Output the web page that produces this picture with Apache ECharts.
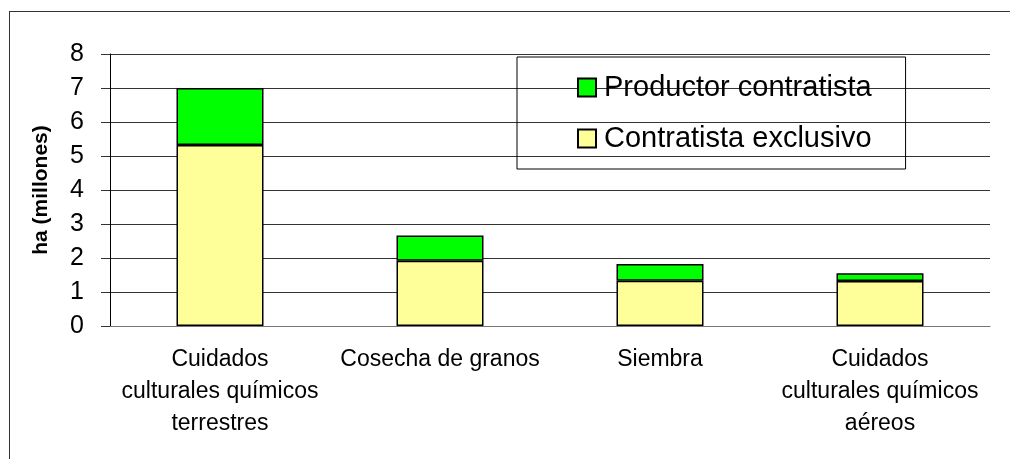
<!DOCTYPE html>
<html lang="es" style="height: 100%">
<head>
  <meta charset="utf-8">
  <title>ha (millones)</title>
</head>
<body style="height: 100%; margin: 0; background: #fff; overflow: hidden">
  <div id="frame" style="position: absolute; left: 9px; top: 11px; width: 1010px; height: 460px; border-top: 1px solid #333; border-left: 1px solid #333"></div>
  <div id="container" style="position: absolute; left: 0; top: 0; width: 1010px; height: 459px"></div>

  <script type="text/javascript" src="https://cdn.jsdelivr.net/npm/echarts@6/dist/echarts.min.js"></script>
  <script type="text/javascript">
    // datos
    const categories = [
      'Cuidados\nculturales químicos\nterrestres',
      'Cosecha de granos',
      'Siembra',
      'Cuidados\nculturales químicos\naéreos'
    ];
    const exclusivo = [5.32, 1.92, 1.33, 1.32];   // Contratista exclusivo
    const productor = [1.68, 0.74, 0.49, 0.23];   // Productor contratista
    const yTicks = [0, 1, 2, 3, 4, 5, 6, 7, 8];

    var dom = document.getElementById('container');
    var myChart = echarts.init(dom, null, { renderer: 'canvas' });
    var font = '"Liberation Sans", Arial, sans-serif';

    var option = {
      animation: false,
      textStyle: { fontFamily: font },
      grid: { left: 110, right: 20, top: 54, bottom: 133 },
      legend: {
        orient: 'vertical',
        left: 517,
        top: 57,
        data: ['Productor contratista', 'Contratista exclusivo'],
        icon: 'rect',
        itemWidth: 18,
        itemHeight: 18,
        itemGap: 18,
        padding: [14, 34, 14, 60],
        borderColor: '#000',
        borderWidth: 1,
        textStyle: { fontFamily: font, fontSize: 29, color: '#000', lineHeight: 33, padding: [0, 0, 0, 3] }
      },
      xAxis: {
        type: 'category',
        data: categories,
        axisLine: { lineStyle: { color: '#777', width: 1 } },
        axisTick: { length: 8, lineStyle: { color: '#333' } },
        axisLabel: {
          interval: 0,
          color: '#000',
          fontSize: 23,
          lineHeight: 32,
          margin: 18,
          fontFamily: font
        }
      },
      yAxis: {
        type: 'value',
        min: yTicks[0],
        max: yTicks[yTicks.length - 1],
        interval: 1,
        name: 'ha (millones)',
        nameLocation: 'middle',
        nameRotate: 90,
        nameGap: 58,
        nameTextStyle: { fontSize: 21, fontWeight: 'bold', color: '#000', fontFamily: font },
        axisLine: { show: true, lineStyle: { color: '#000' } },
        axisTick: { show: true, length: 9, lineStyle: { color: '#333' } },
        axisLabel: { color: '#000', fontSize: 25, margin: 26, fontFamily: font },
        splitLine: { lineStyle: { color: '#333', width: 1 } }
      },
      series: [
        {
          name: 'Contratista exclusivo',
          type: 'bar',
          stack: 'total',
          data: exclusivo,
          barWidth: 87,
          itemStyle: { color: '#FFFF99', borderColor: '#000', borderWidth: 1.5 }
        },
        {
          name: 'Productor contratista',
          type: 'bar',
          stack: 'total',
          data: productor,
          barWidth: 87,
          itemStyle: { color: '#00FF00', borderColor: '#000', borderWidth: 1.5 }
        }
      ]
    };

    myChart.setOption(option);
    window.addEventListener('resize', myChart.resize);
  </script>
</body>
</html>
